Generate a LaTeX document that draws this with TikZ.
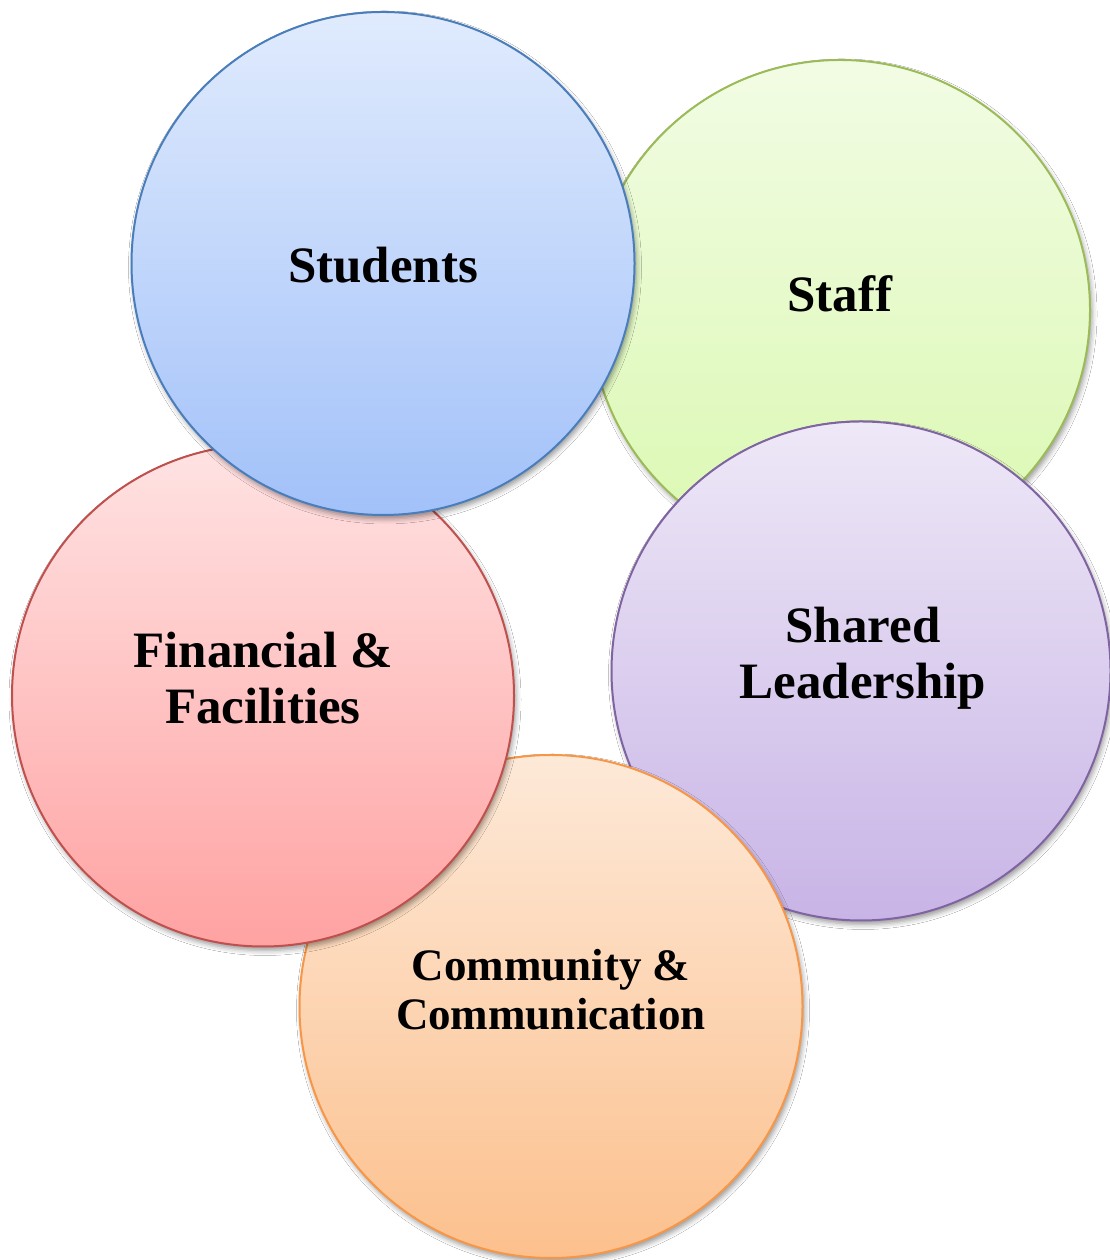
\documentclass[tikz,border=0pt]{standalone}
\usepackage{fontspec}
\setmainfont{Liberation Serif}
\usetikzlibrary{shadows.blur}
\definecolor{stuTop}{HTML}{E0EBFD}\definecolor{stuBot}{HTML}{A2C1F9}\definecolor{stuLine}{HTML}{4A7EBB}
\definecolor{stfTop}{HTML}{F2FCE4}\definecolor{stfBot}{HTML}{DAF8B0}\definecolor{stfLine}{HTML}{9BBB59}
\definecolor{slTop}{HTML}{EEE8F7}\definecolor{slBot}{HTML}{C8B4E6}\definecolor{slLine}{HTML}{8064A2}
\definecolor{finTop}{HTML}{FFE3E3}\definecolor{finBot}{HTML}{FFA2A2}\definecolor{finLine}{HTML}{C0504D}
\definecolor{comTop}{HTML}{FDE9D8}\definecolor{comBot}{HTML}{FCC08D}\definecolor{comLine}{HTML}{F79646}
\tikzset{
  bubble/.style={circle, inner sep=0pt, line width=2pt, minimum size=#1,
    blur shadow={shadow xshift=2pt, shadow yshift=-4pt, shadow blur radius=5pt, shadow opacity=40}},
  bigtext/.style={font=\fontsize{51}{56}\selectfont\bfseries, align=center, inner sep=0pt},
  smalltext/.style={font=\fontsize{45}{49}\selectfont\bfseries, align=center, inner sep=0pt},
}
\begin{document}
\begin{tikzpicture}[x=1pt,y=1pt]
\useasboundingbox[fill=white] (0,0) rectangle (1110,1260);
% circles, back to front
\node[bubble=500pt, draw=stfLine, top color=stfTop, bottom color=stfBot] (staff) at (840,950) {};
\node[bubble=499pt, draw=slLine, top color=slTop, bottom color=slBot] (lead) at (861,589) {};
\node[bubble=503pt, draw=comLine, top color=comTop, bottom color=comBot] (comm) at (551,253.5) {};
\node[bubble=502pt, draw=finLine, top color=finTop, bottom color=finBot] (fin) at (263,564.5) {};
\node[bubble=503pt, draw=stuLine, top color=stuTop, bottom color=stuBot] (stud) at (383,996.5) {};
% labels
\node[bigtext] (tstud) at (383,995) {Students};
\node[bigtext] (tstaff) at (840,966) {Staff};
\node[bigtext] (tlead) at (863,602) {Shared\\Leadership};
\node[bigtext] (tfin) at (263,582) {Financial \&\\Facilities};
\node[smalltext] (tcomm) at (551,270) {Community \&\\Communication};
\end{tikzpicture}
\end{document}
